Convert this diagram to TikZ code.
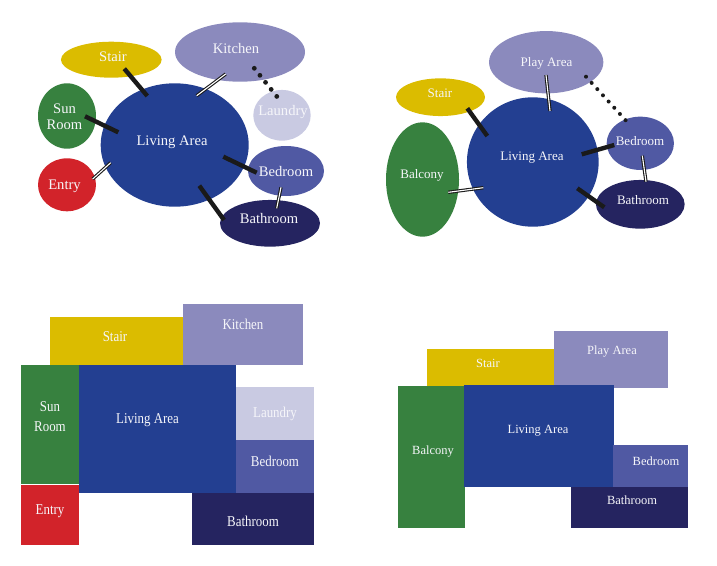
\documentclass[tikz,border=0pt]{standalone}
\usepackage{fontspec}
\usetikzlibrary{shapes.geometric}
\setmainfont{Liberation Serif}
\newfontfamily\narrowfont[FakeStretch=0.86]{Liberation Serif}
\definecolor{stairc}{HTML}{DBBC00}
\definecolor{kitchenc}{HTML}{8B8ABD}
\definecolor{sunc}{HTML}{37813F}
\definecolor{entryc}{HTML}{D2232A}
\definecolor{livingc}{HTML}{233F91}
\definecolor{laundryc}{HTML}{C9CAE2}
\definecolor{bedc}{HTML}{5059A3}
\definecolor{bathc}{HTML}{252460}
\definecolor{linkc}{HTML}{1A1A1A}
\definecolor{labelc}{HTML}{F6F6FA}

\begin{document}
\begin{tikzpicture}[
  x=1pt, y=-1pt,
  oval/.style={ellipse,inner sep=0pt,outer sep=0pt},
  room/.style={rectangle,inner sep=0pt,outer sep=0pt,anchor=north west},
  lbl/.style={text=labelc,align=center,inner sep=0pt,font=\fontsize{14.6}{16}\selectfont},
  lblr/.style={text=labelc,align=center,inner sep=0pt,font=\fontsize{13}{16}\selectfont},
  lbln/.style={text=labelc,align=center,inner sep=0pt,font=\fontsize{15}{20}\selectfont\narrowfont},
  lbls/.style={text=labelc,align=center,inner sep=0pt,font=\fontsize{12.5}{15}\selectfont},
  heavy/.style={linkc,line width=4.4pt},
  twin/.style={linkc,line width=1.1pt,double=white,double distance=1.1pt},
  dots/.style={linkc,line width=4.8pt,line cap=round},
]
\useasboundingbox (0,0) rectangle (717,565);

% ==================== 1. UPPER LEFT BUBBLES ====================
\node[oval,fill=stairc,minimum width=100.7pt,minimum height=36pt] (a_stair) at (111.3,59.7) {};
\node[oval,fill=kitchenc,minimum width=130pt,minimum height=59.4pt] (a_kitchen) at (240,52) {};
\node[oval,fill=sunc,minimum width=58pt,minimum height=65.4pt] (a_sun) at (67,116) {};
\node[oval,fill=entryc,minimum width=58pt,minimum height=53pt] (a_entry) at (67,184.8) {};
\node[oval,fill=livingc,minimum width=148pt,minimum height=123.4pt] (a_living) at (174.7,145) {};
\node[oval,fill=laundryc,minimum width=57.4pt,minimum height=50.7pt] (a_laundry) at (282,115.3) {};
\node[oval,fill=bedc,minimum width=76pt,minimum height=50pt] (a_bed) at (286,171) {};
\node[oval,fill=bathc,minimum width=100pt,minimum height=46.7pt] (a_bath) at (270,223.3) {};

\draw[heavy] ([shift={(13,9)}]a_stair.center) -- ([shift={(-27.4,-49)}]a_living.center);
\draw[twin] ([shift={(-14.3,22)}]a_kitchen.center) -- ([shift={(22,-49.3)}]a_living.center);
\draw[dots,dash pattern=on 0pt off 9pt] ([shift={(14.3,16.3)}]a_kitchen.center) -- ([shift={(-5,-18.6)}]a_laundry.center);
\draw[heavy] ([shift={(18,0.3)}]a_sun.center) -- ([shift={(-56.4,-12.7)}]a_living.center);
\draw[twin] ([shift={(25.7,-5.8)}]a_entry.center) -- ([shift={(-64,17.7)}]a_living.center);
\draw[heavy] ([shift={(48.6,11.7)}]a_living.center) -- ([shift={(-29.3,1.7)}]a_bed.center);
\draw[heavy] ([shift={(24.6,40.7)}]a_living.center) -- ([shift={(-46,-3.3)}]a_bath.center);
\draw[twin] ([shift={(-5,16.3)}]a_bed.center) -- ([shift={(6.7,-15)}]a_bath.center);

\node[lbl] (a_stair_t) at (113,56.5) {Stair};
\node[lbl] (a_kitchen_t) at (236,48.5) {Kitchen};
\node[lbl] (a_sun_t) at (64.5,116.5) {Sun\\Room};
\node[lbl] (a_entry_t) at (64.5,186) {Entry};
\node[lbl] (a_living_t) at (172,142) {Living Area};
\node[lbl] (a_laundry_t) at (283,112) {Laundry};
\node[lbl] (a_bed_t) at (286,171.5) {Bedroom};
\node[lbl] (a_bath_t) at (269,218.5) {Bathroom};

% ==================== 2. UPPER RIGHT BUBBLES ====================
\node[oval,fill=kitchenc,minimum width=114.3pt,minimum height=62.3pt] (b_play) at (546.2,62.2) {};
\node[oval,fill=stairc,minimum width=89pt,minimum height=37.7pt] (b_stair) at (440.5,97.2) {};
\node[oval,fill=sunc,minimum width=73pt,minimum height=114.4pt] (b_balcony) at (422.5,179.5) {};
\node[oval,fill=livingc,minimum width=131.7pt,minimum height=129.4pt] (b_living) at (532.8,162) {};
\node[oval,fill=bedc,minimum width=67.3pt,minimum height=53.3pt] (b_bed) at (640.3,143.3) {};
\node[oval,fill=bathc,minimum width=88.7pt,minimum height=48.7pt] (b_bath) at (640.3,204.3) {};

\draw[twin] ([shift={(-0.2,12.8)}]b_play.center) -- ([shift={(17.2,-51)}]b_living.center);
\draw[dots,line width=4pt,dash pattern=on 0pt off 8.4pt] ([shift={(39.8,14.5)}]b_play.center) -- ([shift={(-14.6,-23)}]b_bed.center);
\draw[heavy] ([shift={(26.8,11.1)}]b_stair.center) -- ([shift={(-45.5,-26)}]b_living.center);
\draw[heavy] ([shift={(48.9,-7.7)}]b_living.center) -- ([shift={(-26,1.7)}]b_bed.center);
\draw[twin] ([shift={(2,12.4)}]b_bed.center) -- ([shift={(5.7,-22.6)}]b_bath.center);
\draw[twin] ([shift={(25.8,12.8)}]b_balcony.center) -- ([shift={(-49.5,25.7)}]b_living.center);
\draw[heavy] ([shift={(44.5,26.3)}]b_living.center) -- ([shift={(-36,3)}]b_bath.center);

\node[lblr] (b_play_t) at (546.5,63.5) {Play Area};
\node[lblr] (b_stair_t) at (440,93) {Stair};
\node[lblr] (b_balcony_t) at (422,175.5) {Balcony};
\node[lblr] (b_living_t) at (532,157.5) {Living Area};
\node[lblr] (b_bed_t) at (640,141) {Bedroom};
\node[lblr] (b_bath_t) at (643,200) {Bathroom};

% ==================== 3. LOWER LEFT PLAN ====================
\node[room,fill=stairc,minimum width=133.3pt,minimum height=48pt] (c_stair) at (50,317) {};
\node[room,fill=kitchenc,minimum width=120pt,minimum height=61pt] (c_kitchen) at (183.3,304) {};
\node[room,fill=sunc,minimum width=58pt,minimum height=119pt] (c_sun) at (21,365) {};
\node[room,fill=entryc,minimum width=58pt,minimum height=60pt] (c_entry) at (21,485) {};
\node[room,fill=livingc,minimum width=157pt,minimum height=127.7pt] (c_living) at (79,365) {};
\node[room,fill=laundryc,minimum width=78pt,minimum height=52.7pt] (c_laundry) at (236,387.3) {};
\node[room,fill=bedc,minimum width=78pt,minimum height=52.7pt] (c_bed) at (236,440) {};
\node[room,fill=bathc,minimum width=122pt,minimum height=52.3pt] (c_bath) at (192,492.7) {};

\node[lbln] (c_stair_t) at (115,337) {Stair};
\node[lbln] (c_kitchen_t) at (243,324) {Kitchen};
\node[lbln] (c_sun_t) at (50,417) {Sun\\Room};
\node[lbln] (c_entry_t) at (50,511.5) {Entry};
\node[lbln] (c_living_t) at (147.5,420.5) {Living Area};
\node[lbln] (c_laundry_t) at (275,413.5) {Laundry};
\node[lbln] (c_bed_t) at (275,461) {Bedroom};
\node[lbln] (c_bath_t) at (253,521) {Bathroom};

% ==================== 4. LOWER RIGHT PLAN ====================
\node[room,fill=stairc,minimum width=127pt,minimum height=37pt] (d_stair) at (427,349) {};
\node[room,fill=kitchenc,minimum width=114pt,minimum height=56.7pt] (d_play) at (554,331) {};
\node[room,fill=sunc,minimum width=67pt,minimum height=142pt] (d_balcony) at (398,386) {};
\node[room,fill=livingc,minimum width=150pt,minimum height=101.7pt] (d_living) at (464,385) {};
\node[room,fill=bedc,minimum width=74.7pt,minimum height=41.7pt] (d_bed) at (613.3,445) {};
\node[room,fill=bathc,minimum width=117pt,minimum height=41.3pt] (d_bath) at (571,486.7) {};

\node[lbls] (d_stair_t) at (488,363) {Stair};
\node[lbls] (d_play_t) at (612,351.5) {Play Area};
\node[lbls] (d_balcony_t) at (433,451.5) {Balcony};
\node[lbls] (d_living_t) at (538,430.5) {Living Area};
\node[lbls] (d_bed_t) at (656,461) {Bedroom};
\node[lbls] (d_bath_t) at (632,500) {Bathroom};

\end{tikzpicture}
\end{document}
